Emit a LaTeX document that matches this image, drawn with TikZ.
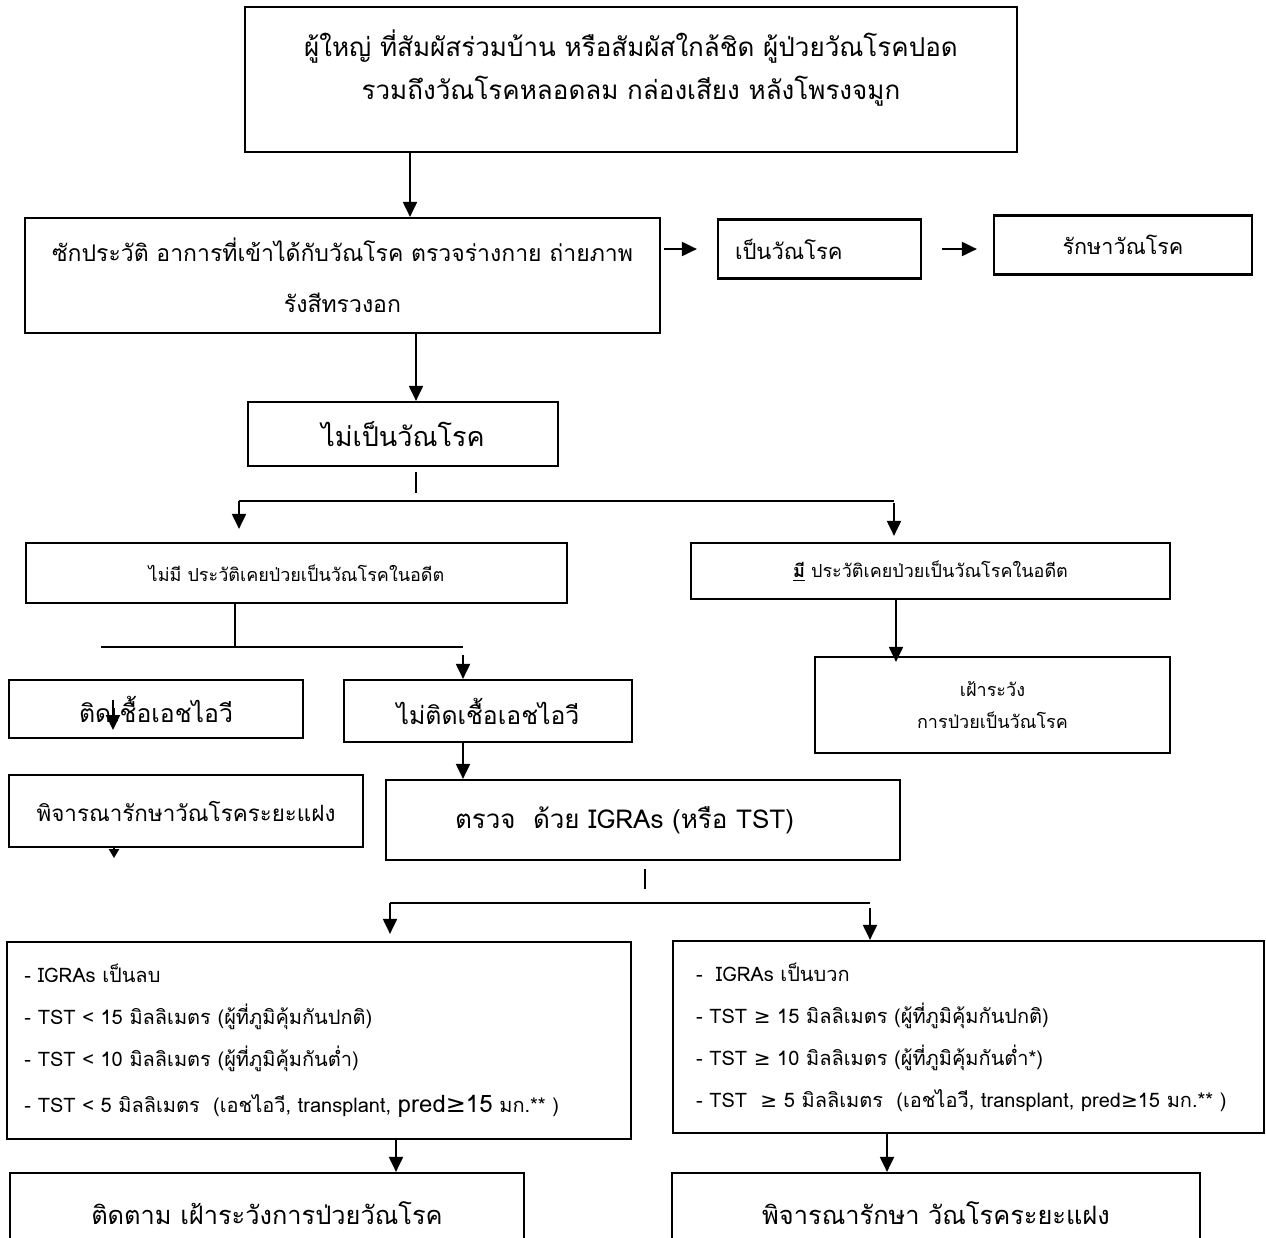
\documentclass[tikz,border=0pt]{standalone}
\usepackage{fontspec}
\setmainfont{Loma}[Script=Thai]
\newfontfamily\symfont{DejaVu Sans}
\usetikzlibrary{arrows.meta,calc}

\begin{document}
\begin{tikzpicture}[x=0.5pt, y=-0.5pt,
      box/.style={draw, line width=1.1pt, inner sep=0pt, align=center},
      big/.style={font=\fontsize{12.4}{16}\selectfont},
      mid/.style={font=\fontsize{11.5}{25.5}\selectfont},
      small/.style={font=\fontsize{9}{16}\selectfont},
      list/.style={box, align=left, font=\fontsize{10}{21}\selectfont},
      arr/.style={-{Triangle[length=7.5pt,width=7pt]}, line width=1pt},
      tip/.style={-{Triangle[length=4.5pt,width=5pt]}, line width=1pt},
      bus/.style={line width=1pt}]
    \useasboundingbox (0,0) rectangle (1266,1238);
    \clip (0,0) rectangle (1266,1238);
    \node[box, minimum width=386pt, minimum height=72.5pt,
          label={[yshift=5.75pt, align=center, font=\fontsize{13}{21.5}\selectfont]center:ผู้ใหญ่ ที่สัมผัสร่วมบ้าน หรือสัมผัสใกล้ชิด ผู้ป่วยวัณโรคปอด\\รวมถึงวัณโรคหลอดลม กล่องเสียง หลังโพรงจมูก}] (top) at (631,79.5) {};
    \node[box, mid, minimum width=317.5pt, minimum height=57.5pt] (hist) at (342.5,275.5) {ซักประวัติ อาการที่เข้าได้กับวัณโรค ตรวจร่างกาย ถ่ายภาพ\\รังสีทรวงอก};
    \node[box, font=\fontsize{11}{14}\selectfont, minimum width=101.5pt, minimum height=29.5pt, text width=84.5pt, align=left] (tb) at (819.5,249) {เป็นวัณโรค};
    \node[box, font=\fontsize{10.8}{14}\selectfont, minimum width=129pt, minimum height=29.5pt] (treat) at (1123,245) {รักษาวัณโรค};
    \node[box, font=\fontsize{13.5}{16}\selectfont, minimum width=155pt, minimum height=32pt] (notb) at (403,434) {ไม่เป็นวัณโรค};
    \node[box, small, minimum width=270.5pt, minimum height=30pt] (nohist) at (296.5,573) {ไม่มี ประวัติเคยป่วยเป็นวัณโรคในอดีต};
    \node[box, small, minimum width=239.5pt, minimum height=28pt] (hashist) at (930.5,571) {\underline{\textbf{มี}} ประวัติเคยป่วยเป็นวัณโรคในอดีต};
    \node[box, small, minimum width=177.5pt, minimum height=48pt] (watch) at (992.5,705) {เฝ้าระวัง\\การป่วยเป็นวัณโรค};
    \node[box, big, minimum width=147pt, minimum height=29pt] (hiv) at (156,709) {ติดเชื้อเอชไอวี};
    \node[box, big, minimum width=144pt, minimum height=31pt] (nohiv) at (488,711) {ไม่ติดเชื้อเอชไอวี};
    \node[box, font=\fontsize{11.2}{14}\selectfont, minimum width=177pt, minimum height=36pt] (ltbi) at (186,811) {พิจารณารักษาวัณโรคระยะแฝง};
    \node[box, font=\fontsize{13}{16}\selectfont, minimum width=257pt, minimum height=40pt, text width=188pt, align=left] (igra) at (643,820) {ตรวจ\ \ ด้วย IGRAs (หรือ TST)};
    \node[list, minimum width=312pt, minimum height=98.5pt, text width=294.5pt] (neg) at (319,1040.5) {- IGRAs เป็นลบ\\- TST < 15 มิลลิเมตร (ผู้ที่ภูมิคุ้มกันปกติ)\\- TST < 10 มิลลิเมตร (ผู้ที่ภูมิคุ้มกันต่ำ)\\[2pt]- TST < 5 มิลลิเมตร\ \ (เอชไอวี, transplant, {\fontsize{12}{21}\selectfont pred{\symfont ≥}15} มก.** )};
    \node[list, minimum width=295.5pt, minimum height=96pt, text width=272.5pt] (pos) at (968.5,1037) {-\ \ IGRAs เป็นบวก\\- TST {\symfont ≥} 15 มิลลิเมตร (ผู้ที่ภูมิคุ้มกันปกติ)\\- TST {\symfont ≥} 10 มิลลิเมตร (ผู้ที่ภูมิคุ้มกันต่ำ*)\\- TST\ \ {\symfont ≥} 5 มิลลิเมตร\ \ (เอชไอวี, transplant, pred{\symfont ≥}15 มก.** )};
    \node[box, font=\fontsize{12.7}{16}\selectfont, minimum width=257pt, minimum height=40pt] (follow) at (267,1213) {ติดตาม เฝ้าระวังการป่วยวัณโรค};
    \node[box, font=\fontsize{12.7}{16}\selectfont, minimum width=264pt, minimum height=40pt] (treatltbi) at (936,1213) {พิจารณารักษา วัณโรคระยะแฝง};
    \coordinate (busa1) at (239,501);
    \coordinate (busa2) at (894,501);
    \coordinate (busb1) at (101,647);
    \coordinate (busb2) at (463,647);
    \coordinate (busc1) at (390,903);
    \coordinate (busc2) at (870,903);
    \coordinate (hivtop) at (113,700);
    \coordinate (hivbot) at (113,730);
    \draw[arr] (top.south -| 410,0) -- (hist.north -| 410,0);
    \draw[arr] ($(hist.east |- tb.west)+(3,0)$) -- ($(tb.west)+(-20,0)$);
    \draw[arr] ($(tb.east)+(20,0)$) -- ($(treat.west |- tb.east)+(-16,0)$);
    \draw[arr] (hist.south -| 416,0) -- (notb.north -| 416,0);
    \draw[bus] ($(notb.south -| 416,0)+(0,5)$) -- ++(0,21);
    \draw[bus] (busa1) -- (busa2);
    \draw[arr] (busa1) -- ($(nohist.north -| busa1)+(0,-13)$);
    \draw[arr] ($(busa2)+(0,2)$) -- ($(hashist.north -| busa2)+(0,-6)$);
    \draw[bus] (nohist.south -| 235,0) -- (busb1 -| 235,0);
    \draw[bus] (busb1) -- (busb2);
    \draw[arr] ($(busb2)+(0,8)$) -- (nohiv.north -| busb2);
    \draw[arr] (hivtop) -- (hivbot);
    \draw[tip] (ltbi.south -| 114,0) -- ++(0,10);
    \draw[arr] (nohiv.south -| 463,0) -- (igra.north -| 463,0);
    \draw[arr] (hashist.south -| 896,0) -- ($(watch.north -| 896,0)+(0,6)$);
    \draw[bus] ($(igra.south -| 645,0)+(0,8)$) -- ++(0,20);
    \draw[bus] (busc1) -- (busc2);
    \draw[arr] (busc1) -- ($(neg.north -| busc1)+(0,-7)$);
    \draw[arr] ($(busc2)+(0,5)$) -- (pos.north -| busc2);
    \draw[arr] (neg.south -| 396,0) -- (follow.north -| 396,0);
    \draw[arr] (pos.south -| 887,0) -- (treatltbi.north -| 887,0);
\end{tikzpicture}
\end{document}
